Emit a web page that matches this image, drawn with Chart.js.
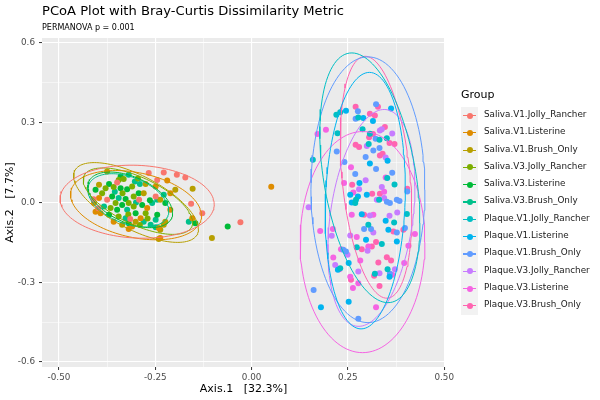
<!DOCTYPE html>
<html>
<head>
<meta charset="UTF-8">
<title>PCoA Plot</title>
<script src="https://cdn.jsdelivr.net/npm/chart.js@4/dist/chart.umd.min.js"></script>
<style>
body{margin:0;background:#fff;font-family:"DejaVu Sans",sans-serif;color:#000;}
#wrap{position:relative;width:600px;height:400px;}
#title{position:absolute;left:42px;top:3px;font-size:13.1px;white-space:nowrap;}
#sub{position:absolute;left:42px;top:23px;font-size:8px;white-space:nowrap;}
#legend{position:absolute;left:461px;top:88px;}
#legend .head{font-size:11px;height:19px;}
#legend .row{height:17.3px;position:relative;}
#legend .key{position:absolute;left:0;top:0;width:17px;height:17.3px;background:#F2F2F2;}
#legend .ln{position:absolute;left:2px;top:8px;width:13px;height:1.2px;}
#legend .dot{position:absolute;left:5.5px;top:5.6px;width:6px;height:6px;border-radius:3px;}
#legend .lab{position:absolute;left:23px;top:2px;font-size:8.8px;color:#1A1A1A;white-space:nowrap;}
</style>
</head>
<body>
<div id="wrap">
	<canvas id="myChart" width="600" height="400"></canvas>
	<div id="title">PCoA Plot with Bray-Curtis Dissimilarity Metric</div>
	<div id="sub">PERMANOVA p = 0.001</div>
	<div id="legend"><div class="head">Group</div></div>
</div>
<script>
// 分组与颜色
var groups=["Saliva.V1.Jolly_Rancher","Saliva.V1.Listerine","Saliva.V1.Brush_Only","Saliva.V3.Jolly_Rancher","Saliva.V3.Listerine","Saliva.V3.Brush_Only","Plaque.V1.Jolly_Rancher","Plaque.V1.Listerine","Plaque.V1.Brush_Only","Plaque.V3.Jolly_Rancher","Plaque.V3.Listerine","Plaque.V3.Brush_Only"];
var colors=["#F8766D","#DE8C00","#B79F00","#7CAE00","#00BA38","#00C08B","#00BFC4","#00B4F0","#619CFF","#C77CFF","#F564E3","#FF64B0"];

// 刻度
var xTicks=[-0.5,-0.25,0,0.25,0.5];
var xGrid=[-0.5,-0.375,-0.25,-0.125,0,0.125,0.25,0.375,0.5];
var yTicks=[-0.6,-0.3,0,0.3,0.6];
var yGrid=[-0.6,-0.45,-0.3,-0.15,0,0.15,0.3,0.45,0.6];

// 各组样本点 [Axis.1, Axis.2]
var salivaV1JR=[[-0.267,0.111],[-0.228,0.113],[-0.194,0.104],[-0.172,0.094],[-0.157,-0.005],[-0.128,-0.04],[-0.029,-0.074],[-0.249,0.023],[-0.375,0.010],[-0.245,0.085],[-0.41,0.012],[-0.398,-0.022],[-0.349,0.075],[-0.315,-0.062],[-0.292,0.01]];
var salivaV1L=[[-0.249,0.060],[-0.396,0.017],[-0.271,-0.021],[-0.392,-0.040],[-0.288,-0.059],[-0.358,-0.072],[-0.310,-0.090],[-0.409,-0.002],[-0.211,-0.027],[-0.237,-0.134],[-0.211,0.035],[-0.219,0.083],[-0.154,-0.059],[0.051,0.059],[-0.241,-0.096],[-0.319,-0.1],[-0.405,-0.035]];
var salivaV1B=[[-0.153,0.052],[-0.198,0.048],[-0.103,-0.134],[-0.241,-0.137],[-0.224,-0.072],[-0.228,-0.084],[-0.237,-0.103],[-0.237,0.010],[-0.275,0.070],[-0.375,0.117],[-0.336,-0.084],[-0.396,0.067],[-0.28,0.035],[-0.301,-0.072]];
var salivaV3JR=[[-0.332,0.088],[-0.345,0.085],[-0.358,0.058],[-0.379,0.054],[-0.388,0.035],[-0.306,0.023],[-0.353,-0.002],[-0.319,-0.002],[-0.366,-0.021],[-0.306,-0.015],[-0.345,-0.053],[-0.275,-0.040],[-0.31,0.06],[-0.295,0.09],[-0.335,0.035],[-0.27,-0.06],[-0.32,-0.045],[-0.29,-0.085]];
var salivaV3L=[[-0.370,0.070],[-0.340,0.054],[-0.323,0.050],[-0.264,0.008],[-0.293,0.035],[-0.362,0.023],[-0.327,0.013],[-0.336,-0.009],[-0.284,-0.009],[-0.349,-0.027],[-0.370,-0.046],[-0.301,-0.040],[-0.245,-0.046],[-0.319,-0.078],[-0.405,0.048],[-0.224,-0.002],[-0.146,-0.078],[-0.062,-0.09],[-0.34,0.098]];
var salivaV3B=[[-0.319,0.104],[-0.303,0.079],[-0.290,0.070],[-0.245,0.010],[-0.345,0.017],[-0.383,-0.015],[-0.323,-0.027],[-0.258,-0.002],[-0.327,-0.059],[-0.280,-0.072],[-0.249,-0.065],[-0.228,0.029],[-0.163,-0.072],[-0.262,-0.084],[-0.249,-0.093],[-0.355,0.04],[-0.30,0.0]];
var plaqueV1JR=[[0.22,0.33],[0.23,0.34],[0.277,0.32],[0.223,0.261],[0.288,0.276],[0.307,0.259],[0.332,0.236],[0.351,0.242],[0.304,0.22],[0.159,0.161],[0.352,0.092],[0.371,0.068],[0.271,0.01],[0.269,-0.002],[0.331,0.01],[0.403,-0.043],[0.37,-0.075],[0.303,-0.084],[0.338,-0.156],[0.273,-0.168],[0.23,-0.247],[0.353,-0.251],[0.32,-0.268]];
var plaqueV1L=[[0.245,0.345],[0.29,0.318],[0.315,0.307],[0.362,0.354],[0.353,0.157],[0.307,0.147],[0.28,0.073],[0.256,0.029],[0.276,0.023],[0.299,0.029],[0.26,0.0],[0.286,-0.044],[0.348,-0.069],[0.355,-0.103],[0.297,-0.14],[0.377,-0.147],[0.252,-0.228],[0.224,-0.253],[0.358,-0.279],[0.18,-0.394],[0.252,-0.373]];
var plaqueV1B=[[0.276,0.343],[0.27,0.315],[0.323,0.37],[0.322,0.24],[0.221,0.192],[0.316,0.196],[0.332,0.205],[0.296,0.171],[0.241,0.152],[0.323,0.126],[0.269,0.107],[0.365,0.112],[0.351,0.003],[0.359,-0.002],[0.377,0.01],[0.384,0.006],[0.404,0.041],[0.292,-0.1],[0.31,-0.1],[0.377,-0.113],[0.398,-0.096],[0.238,-0.178],[0.245,-0.184],[0.359,-0.268],[0.161,-0.329],[0.277,-0.437]];
var plaqueV3JR=[[0.333,0.271],[0.338,0.276],[0.365,0.26],[0.299,0.213],[0.348,0.169],[0.296,0.084],[0.338,0.058],[0.279,0.05],[0.325,0.01],[0.344,0.017],[0.148,-0.018],[0.307,-0.049],[0.358,-0.05],[0.378,-0.038],[0.316,-0.113],[0.208,-0.125],[0.256,-0.124],[0.301,-0.182],[0.249,-0.197],[0.217,-0.235],[0.277,-0.26],[0.372,-0.251],[0.332,-0.266]];
var plaqueV3L=[[0.171,0.258],[0.193,0.274],[0.24,0.073],[0.264,0.038],[0.344,0.04],[0.26,-0.046],[0.316,-0.046],[0.424,-0.119],[0.178,-0.107],[0.211,-0.1],[0.273,-0.13],[0.407,-0.163],[0.303,-0.166],[0.232,-0.176],[0.282,-0.218],[0.396,-0.228],[0.212,-0.207],[0.228,-0.251],[0.365,-0.272],[0.256,-0.279],[0.263,-0.322],[0.277,-0.304],[0.323,-0.394],[0.258,0.133],[0.348,0.094]];
var plaqueV3B=[[0.27,0.36],[0.307,0.334],[0.32,0.327],[0.328,0.36],[0.346,0.284],[0.315,0.258],[0.305,0.246],[0.358,0.224],[0.371,0.22],[0.27,0.217],[0.279,0.209],[0.333,0.177],[0.34,0.183],[0.261,0.067],[0.333,0.033],[0.313,0.033],[0.404,0.052],[0.292,-0.046],[0.368,-0.109],[0.394,-0.103],[0.323,-0.149],[0.286,-0.176],[0.312,-0.166],[0.329,-0.226],[0.351,-0.206],[0.362,-0.218],[0.318,-0.276],[0.258,-0.291],[0.332,-0.314]];
var points=[salivaV1JR,salivaV1L,salivaV1B,salivaV3JR,salivaV3L,salivaV3B,plaqueV1JR,plaqueV1L,plaqueV1B,plaqueV3JR,plaqueV3L,plaqueV3B];

// 置信椭圆: [中心x, 中心y, 横向半宽, b, 右端点相对中心的y偏移]
var ellipses=[
	[-0.297,0.003,0.200,0.137,-0.01],
	[-0.300,-0.010,0.170,0.124,-0.04],
	[-0.300,0.000,0.162,0.112,-0.10],
	[-0.295,0.005,0.142,0.096,-0.08],
	[-0.315,0.010,0.110,0.092,-0.05],
	[-0.320,0.008,0.105,0.092,-0.04],
	[0.307,0.093,0.130,0.438,-0.17],
	[0.295,0.007,0.104,0.480,0.05],
	[0.302,0.048,0.148,0.500,0.0],
	[0.311,-0.058,0.113,0.390,0.12],
	[0.288,-0.149,0.162,0.416,0.0],
	[0.323,0.095,0.093,0.434,-0.137]
];

function ellipsePath(e){
	var pts=[];
	for(var i=0;i<=120;i++){
		var t=i/120*Math.PI*2;
		pts.push({x:e[0]+e[2]*Math.cos(t),y:e[1]+e[4]*Math.cos(t)+e[3]*Math.sin(t)});
	}
	return pts;
}
function isMajor(v,step){
	var r=v/step;
	return Math.abs(r-Math.round(r))<1e-6;
}

var datasets=[];
for(var i=0;i<groups.length;i++){
	datasets.push({
		label:groups[i]+" ellipse",
		data:ellipsePath(ellipses[i]),
		showLine:true,
		borderColor:colors[i],
		borderWidth:1,
		pointRadius:0,
		fill:false
	});
}
for(var i=0;i<groups.length;i++){
	datasets.push({
		label:groups[i],
		data:points[i].map(function(p){return {x:p[0],y:p[1]};}),
		backgroundColor:colors[i],
		borderWidth:0,
		pointRadius:3,
		pointHoverRadius:3
	});
}

// 面板背景
var panelBg={
	id:'panelBg',
	beforeDraw:function(chart){
		var a=chart.chartArea,c=chart.ctx;
		c.save();
		c.fillStyle='#EBEBEB';
		c.fillRect(a.left,a.top,a.right-a.left,a.bottom-a.top);
		c.restore();
	}
};

var ctx=document.getElementById('myChart').getContext('2d');
var myChart=new Chart(ctx,{
	type:'scatter',
	data:{datasets:datasets},
	plugins:[panelBg],
	options:{
		responsive:false,
		animation:false,
		layout:{padding:{top:38,right:155,left:0,bottom:0}},
		plugins:{legend:{display:false},tooltip:{enabled:false}},
		scales:{
			x:{
				type:'linear',min:-0.544,max:0.502,
				afterBuildTicks:function(s){s.ticks=xGrid.map(function(v){return {value:v};});},
				afterFit:function(s){s.height=33;},
				border:{display:false},
				grid:{
					color:'#FFFFFF',
					lineWidth:function(c){return isMajor(c.tick.value,0.25)?1.1:0.5;},
					tickLength:3,
					tickColor:function(c){return isMajor(c.tick.value,0.25)?'#333333':'rgba(0,0,0,0)';},
					tickWidth:1
				},
				ticks:{
					autoSkip:false,maxRotation:0,padding:2,color:'#4D4D4D',
					font:{family:'DejaVu Sans',size:8.8},
					callback:function(v){return xTicks.some(function(t){return Math.abs(t-v)<1e-6;})?v.toFixed(2):'';}
				},
				title:{display:true,text:'Axis.1   [32.3%]',color:'#000',font:{family:'DejaVu Sans',size:11},padding:{top:0,bottom:4}}
			},
			y:{
				type:'linear',min:-0.619,max:0.619,
				afterBuildTicks:function(s){s.ticks=yGrid.map(function(v){return {value:v};});},
				afterFit:function(s){s.width=42;},
				border:{display:false},
				grid:{
					color:'#FFFFFF',
					lineWidth:function(c){return isMajor(c.tick.value,0.3)?1.1:0.5;},
					tickLength:3,
					tickColor:function(c){return isMajor(c.tick.value,0.3)?'#333333':'rgba(0,0,0,0)';},
					tickWidth:1
				},
				ticks:{
					autoSkip:false,padding:4,color:'#4D4D4D',
					font:{family:'DejaVu Sans',size:8.8},
					callback:function(v){return yTicks.some(function(t){return Math.abs(t-v)<1e-6;})?v.toFixed(1):'';}
				},
				title:{display:true,text:'Axis.2   [7.7%]',color:'#000',font:{family:'DejaVu Sans',size:11},padding:{top:4,bottom:0}}
			}
		}
	}
});

// 图例
var lg=document.getElementById('legend');
for(var i=0;i<groups.length;i++){
	var row=document.createElement('div');
	row.className='row';
	row.innerHTML='<div class="key"><div class="ln" style="background:'+colors[i]+'"></div><div class="dot" style="background:'+colors[i]+'"></div></div><div class="lab">'+groups[i]+'</div>';
	lg.appendChild(row);
}
</script>
</body>
</html>
